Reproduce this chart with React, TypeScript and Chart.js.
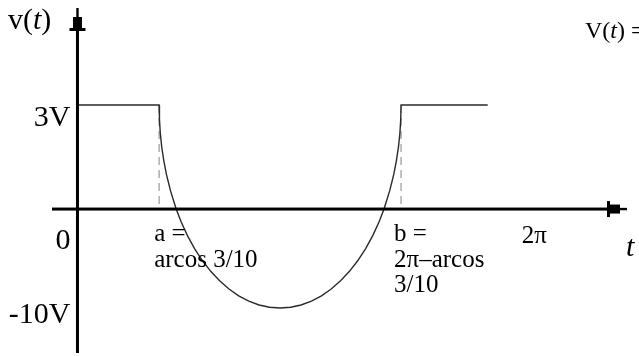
import React, { useEffect, useRef } from "react";
import { Chart, registerables, LinearScale } from "chart.js";

// ---- data (t in radians, v in volts) ----
const A_T = 1.266; // arccos(3/10)
const B_T = 5.017; // 2π − arccos(3/10)
const V_HIGH = 3;
const SIGNAL_T = [
  0, 1.266, 1.271, 1.284, 1.307, 1.339, 1.379, 1.442, 1.53,
  1.605, 1.705, 1.815, 1.936, 2.066, 2.204, 2.349, 2.5, 2.656, 2.816, 2.978,
  3.141,
  3.305, 3.467, 3.627, 3.783, 3.934, 4.079, 4.217, 4.347, 4.468, 4.578, 4.678,
  4.753, 4.841, 4.904, 4.944, 4.976, 4.999, 5.012,
  5.017, 6.36,
];
const SIGNAL_V = [
  3, 3, 2.59, 2.19, 1.78, 1.39, 1.0, 0.53, 0,
  -1.26, -2.68, -3.99, -5.2, -6.29, -7.25, -8.08, -8.76, -9.3, -9.69, -9.92,
  -10,
  -9.92, -9.69, -9.3, -8.76, -8.08, -7.25, -6.29, -5.2, -3.99, -2.68, -1.26,
  0, 0.53, 1.0, 1.39, 1.78, 2.19, 2.59,
  3, 3,
];
const Y_TICK_VALUES = [3, 0, -10];
const Y_TICK_LABELS = ["3V", "0", "-10V"];
const A_LABEL_LINES = ["a =", "arcos 3/10"];
const B_LABEL_LINES = ["b =", "2π–arcos", "3/10"];
const TWO_PI_LABEL = "2π";

// ---- layout / style ----
const W = 639;
const H = 356;
const X_MIN = -0.395;
const X_MAX = 8.52;
const Y_MIN = -14.54;
const Y_MAX = 5.8;
const NEG_RATIO = 0.2856; // schematic compression of the negative half-axis
const SERIF = '"Liberation Serif", "Times New Roman", serif';
const Y_LABEL_DY = [21, 40, 15];

class PiecewiseScale extends LinearScale {
  static id = "piecewise";
  static defaults = LinearScale.defaults;
  fwd(v: number) {
    return v >= 0 ? v : v * NEG_RATIO;
  }
  inv(u: number) {
    return u >= 0 ? u : u / NEG_RATIO;
  }
  getPixelForValue(value: any) {
    if (value === null || value === undefined) return NaN;
    const s = this.fwd(this.min);
    const e = this.fwd(this.max);
    return this.getPixelForDecimal((this.fwd(value) - s) / (e - s));
  }
  getValueForPixel(pixel: number) {
    const s = this.fwd(this.min);
    const e = this.fwd(this.max);
    return this.inv(s + this.getDecimalForPixel(pixel) * (e - s));
  }
}

Chart.register(...registerables, PiecewiseScale as any);

type Run = [string, boolean];
function drawRuns(ctx: CanvasRenderingContext2D, runs: Run[], x: number, y: number, size: number, align: "left" | "right") {
  const fontFor = (it: boolean) => `${it ? "italic " : ""}${size}px ${SERIF}`;
  let total = 0;
  for (const [t, it] of runs) {
    ctx.font = fontFor(it);
    total += ctx.measureText(t).width;
  }
  let cx = align === "right" ? x - total : x;
  ctx.textAlign = "left";
  ctx.textBaseline = "alphabetic";
  for (const [t, it] of runs) {
    ctx.font = fontFor(it);
    ctx.fillText(t, cx, y);
    cx += ctx.measureText(t).width;
  }
}

const axesPlugin = {
  id: "schematicAxes",
  afterDatasetsDraw(chart: any) {
    const ctx: CanvasRenderingContext2D = chart.ctx;
    const xs = chart.scales.x;
    const ys = chart.scales.y;
    const area = chart.chartArea;
    const ax = xs.getPixelForValue(0);
    const ay = ys.getPixelForValue(0);
    ctx.save();
    ctx.fillStyle = "#000";
    ctx.strokeStyle = "#000";
    // y axis
    ctx.fillRect(ax - 1.5, area.top + 23, 3, area.bottom - area.top - 23);
    ctx.fillRect(ax - 8, area.top + 20, 16, 3);
    ctx.fillRect(ax - 4.5, area.top + 9, 9, 11);
    ctx.fillRect(ax - 1.2, area.top, 2.4, 9);
    // x axis
    const r = area.right;
    ctx.fillRect(area.left, ay - 1.5, r - 20 - area.left, 3);
    ctx.fillRect(r - 20, ay - 8, 3, 16);
    ctx.fillRect(r - 17, ay - 4.5, 10, 9);
    ctx.fillRect(r - 7, ay - 1.2, 7, 2.4);

    // y tick labels
    Y_TICK_VALUES.forEach((v, i) => {
      const py = ys.getPixelForValue(v);
      drawRuns(ctx, [[Y_TICK_LABELS[i], false]], ax - 7, py + Y_LABEL_DY[i], 30, "right");
    });
    // axis titles
    drawRuns(ctx, [["v(", false], ["t", true], [")", false]], 8, area.top + 21, 30, "left");
    drawRuns(ctx, [["t", true]], r - 1, ay + 47, 30, "left");
    drawRuns(ctx, [["V(", false], ["t", true], [") =", false]], 585, area.top + 30, 24, "left");

    // a / b / 2π labels
    const aX = xs.getPixelForValue(A_T);
    A_LABEL_LINES.forEach((s, i) => {
      drawRuns(ctx, [[s, false]], aX - 5, ay + 32 + i * 25.5, 25, "left");
    });
    const bX = xs.getPixelForValue(B_T);
    B_LABEL_LINES.forEach((s, i) => {
      drawRuns(ctx, [[s, false]], bX - 7, ay + 32 + i * 25.5, 25, "left");
    });
    const tpX = xs.getPixelForValue(2 * Math.PI);
    drawRuns(ctx, [[TWO_PI_LABEL, false]], tpX + 39, ay + 34, 25, "left");
    ctx.restore();
  },
};

export default function App() {
  const ref = useRef<HTMLCanvasElement | null>(null);
  useEffect(() => {
    if (!ref.current) return;
    const signal = SIGNAL_T.map((t, i) => ({ x: t, y: SIGNAL_V[i] }));
    const chart = new Chart(ref.current, {
      type: "line",
      data: {
        datasets: [
          {
            data: signal,
            borderColor: "#2a2a2a",
            borderWidth: 1.4,
            pointRadius: 0,
            tension: 0,
            fill: false,
          },
          {
            data: [
              { x: A_T, y: V_HIGH },
              { x: A_T, y: 0 },
            ],
            borderColor: "#a8a8a8",
            borderWidth: 1.4,
            borderDash: [8, 5],
            pointRadius: 0,
            fill: false,
          },
          {
            data: [
              { x: B_T, y: V_HIGH },
              { x: B_T, y: 0 },
            ],
            borderColor: "#a8a8a8",
            borderWidth: 1.4,
            borderDash: [8, 5],
            pointRadius: 0,
            fill: false,
          },
        ],
      },
      options: {
        animation: false,
        responsive: false,
        devicePixelRatio: 1,
        layout: { padding: { left: 52, right: 12, top: 8, bottom: 3 } },
        plugins: { legend: { display: false }, tooltip: { enabled: false } },
        scales: {
          x: { type: "linear", min: X_MIN, max: X_MAX, display: false },
          y: { type: "piecewise" as any, min: Y_MIN, max: Y_MAX, display: false },
        },
      },
      plugins: [axesPlugin],
    });
    return () => chart.destroy();
  }, []);
  return (
    <div style={{ position: "fixed", left: 0, top: 0, width: W, height: H, background: "#fff" }}>
      <canvas ref={ref} width={W} height={H} style={{ width: W, height: H, display: "block" }} />
    </div>
  );
}
